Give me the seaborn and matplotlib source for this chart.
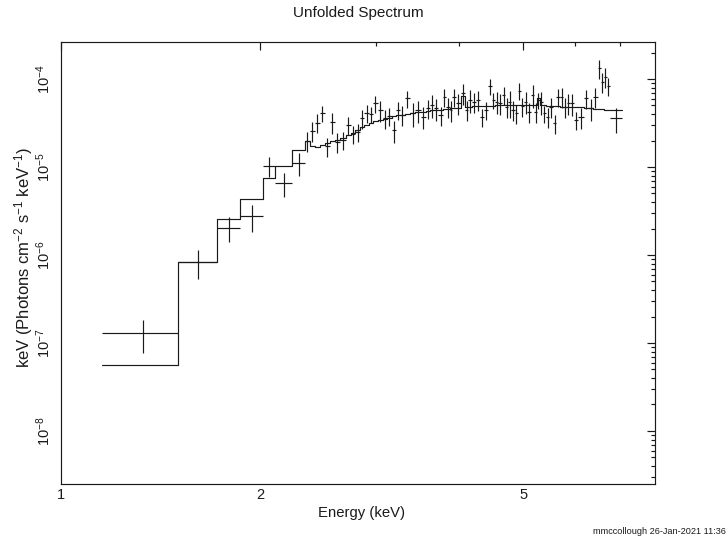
import numpy as np
import pandas as pd
import matplotlib
matplotlib.use("Agg")
import matplotlib.pyplot as plt
from matplotlib.ticker import FixedLocator, LogLocator, NullFormatter, FuncFormatter
import seaborn as sns

# Channel bin edges (keV)
bin_edges = [
    1.154, 1.503, 1.722, 1.865, 2.021, 2.107, 2.236, 2.340,
    2.378, 2.423, 2.463, 2.507, 2.551, 2.596, 2.643, 2.694, 2.744, 2.788,
    2.832, 2.878, 2.921, 2.964, 3.012, 3.065, 3.115, 3.165, 3.215, 3.257,
    3.309, 3.372, 3.437, 3.502, 3.564, 3.616, 3.666, 3.724, 3.777, 3.827,
    3.870, 3.910, 3.962, 4.022, 4.081, 4.134, 4.186, 4.240, 4.297, 4.363,
    4.426, 4.483, 4.535, 4.589, 4.647, 4.702, 4.745, 4.800, 4.857, 4.908,
    4.963, 5.014, 5.073, 5.141, 5.199, 5.250, 5.299, 5.351, 5.411, 5.478,
    5.545, 5.615, 5.688, 5.755, 5.822, 5.889, 5.965, 6.064, 6.173, 6.270,
    6.380, 6.481, 6.554, 6.623, 6.692, 6.770, 7.059,
]

# Unfolded data, E*F(E), in units of 1e-5 keV (photons cm^-2 s^-1 keV^-1)
flux_1e5 = [
    0.0130, 0.0832, 0.204, 0.277, 1.035, 0.653, 1.12,
    2.00, 2.57, 3.19, 4.08, 1.73, 3.27, 1.94, 2.03, 3.00, 2.37,
    2.52, 3.58, 4.08, 4.00, 5.30, 4.44, 3.58, 3.80, 2.63, 4.44,
    3.90, 6.04, 4.08, 4.44, 3.73, 4.65, 5.06, 4.65, 3.90, 6.29,
    4.84, 4.44, 6.29, 5.30, 6.88, 4.44, 5.77, 5.52, 5.77, 3.73,
    4.44, 8.33, 5.77, 5.52, 5.30, 6.58, 4.84, 5.52, 4.44, 4.08,
    7.31, 4.93, 5.52, 4.25, 6.58, 4.25, 5.77, 5.52, 4.08, 3.73,
    4.84, 3.14, 6.29, 6.29, 4.84, 5.30, 5.30, 3.42, 3.73, 6.04,
    4.65, 6.29, 13.2, 9.32, 10.5, 8.33, 3.58,
]

# 1-sigma uncertainties, same units
flux_err_1e5 = [
    0.0053, 0.030, 0.0645, 0.0945, 0.257, 0.198, 0.329,
    0.51, 0.67, 0.78, 0.85, 0.43, 0.87, 0.49, 0.465, 0.68, 0.55,
    0.60, 0.85, 0.92, 0.85, 1.17, 1.19, 0.845, 0.89, 0.74, 0.98,
    0.99, 1.33, 1.21, 1.25, 1.02, 1.18, 1.45, 1.31, 0.96, 1.43,
    1.23, 1.19, 1.50, 1.40, 1.82, 1.12, 1.70, 1.40, 1.46, 0.89,
    1.05, 1.80, 1.22, 1.55, 1.40, 1.56, 1.28, 1.88, 1.12, 1.03,
    1.58, 1.23, 1.55, 1.12, 1.94, 1.08, 1.22, 1.62, 0.90, 0.99,
    1.28, 0.79, 1.50, 1.60, 1.28, 1.40, 1.49, 0.81, 1.01, 1.50,
    1.31, 1.60, 3.13, 2.36, 2.69, 1.95, 1.14,
]

# Folded model per bin, same units
model_1e5 = [
    0.00562, 0.084, 0.255, 0.430, 0.744, 1.035, 1.56,
    1.97, 1.73, 1.69, 1.78, 1.89, 1.95, 2.03, 2.14, 2.31, 2.45,
    2.63, 2.83, 3.00, 3.16, 3.29, 3.42, 3.54, 3.65, 3.75, 3.85,
    3.90, 4.00, 4.11, 4.18, 4.27, 4.33, 4.39, 4.44, 4.50, 4.56,
    4.60, 4.65, 4.68, 4.72, 6.40, 4.81, 4.84, 4.87, 4.89, 4.93,
    4.93, 4.96, 4.99, 5.00, 5.03, 5.04, 5.06, 5.06, 5.09, 5.10,
    5.11, 5.12, 5.12, 5.12, 5.12, 5.11, 6.08, 5.06, 5.00, 4.93,
    4.93, 4.89, 4.87, 4.84, 4.83, 4.81, 4.81, 4.78, 4.77, 4.74,
    4.68, 4.62, 4.56, 4.52, 4.50, 4.48, 4.39,
]

x_major = [1, 2, 5]
x_minor = [3, 4, 6, 7]

title_text = "Unfolded Spectrum"
xlabel_text = "Energy (keV)"
ylabel_text = r"keV (Photons cm$^{-2}$ s$^{-1}$ keV$^{-1}$)"
stamp_text = "mmccollough 26-Jan-2021 11:36"

sns.set_theme(style="white")
plt.rcParams["font.family"] = ["Liberation Sans", "DejaVu Sans"]
plt.rcParams["mathtext.fontset"] = "custom"
plt.rcParams["mathtext.rm"] = "Liberation Sans"
plt.rcParams["mathtext.it"] = "Liberation Sans:italic"
plt.rcParams["mathtext.bf"] = "Liberation Sans:bold"

edges = np.array(bin_edges)
lo, hi = edges[:-1], edges[1:]
centers = 0.5 * (lo + hi)
halfw = 0.5 * (hi - lo)
scale = 1e-5
flux = np.array(flux_1e5) * scale
flux_err = np.array(flux_err_1e5) * scale
model = np.array(model_1e5) * scale

W, H = 728, 540
fig = plt.figure(figsize=(W / 100, H / 100), dpi=100)
ax = fig.add_axes([61 / W, 1 - 484 / H, (655 - 61) / W, (484 - 42) / H])

ink = "#1a1a1a"
lw = 0.85

step_df = pd.DataFrame({"energy": edges, "model": np.append(model, model[-1])})
sns.lineplot(data=step_df, x="energy", y="model", drawstyle="steps-post",
             estimator=None, sort=False, color=ink, lw=lw, ax=ax)

ax.errorbar(centers, flux, xerr=halfw, yerr=flux_err, fmt="none",
            ecolor=ink, elinewidth=lw, capsize=0)

ax.set_xscale("log")
ax.set_yscale("log")
ax.set_xlim(1.0, 7.917)
ax.set_ylim(2.498e-9, 2.633e-4)

ax.xaxis.set_major_locator(FixedLocator(x_major))
ax.xaxis.set_minor_locator(FixedLocator(x_minor))
ax.xaxis.set_major_formatter(FuncFormatter(lambda v, p: f"{v:g}"))
ax.xaxis.set_minor_formatter(NullFormatter())
ax.yaxis.set_major_locator(LogLocator(base=10, numticks=30))
ax.yaxis.set_minor_locator(LogLocator(base=10, subs=np.arange(2, 10), numticks=30))
ax.yaxis.set_major_formatter(
    FuncFormatter(lambda v, p: rf"$10^{{{int(round(np.log10(v)))}}}$"))
ax.yaxis.set_minor_formatter(NullFormatter())

ax.tick_params(which="both", direction="in", top=True, right=True,
               color=ink, width=lw, labelsize=10.5, labelcolor=ink)
ax.tick_params(which="major", length=6)
ax.tick_params(which="minor", length=3)
ax.tick_params(axis="x", pad=3)
ax.tick_params(axis="y", pad=6, labelrotation=90)
for lab in ax.get_yticklabels():
    lab.set_verticalalignment("center")

for s in ax.spines.values():
    s.set_color(ink)
    s.set_linewidth(lw)
ax.set_xlabel("")
ax.set_ylabel("")

fig.text(358 / W, 1 - 13 / H, title_text, ha="center", va="center",
         fontsize=11, color=ink)
fig.text(361 / W, 1 - 513 / H, xlabel_text, ha="center", va="center",
         fontsize=10.7, color=ink)
fig.text(24 / W, 1 - 258 / H, ylabel_text, ha="center", va="center",
         rotation=90, fontsize=12, color=ink)
fig.text(726 / W, 1 - 532 / H, stamp_text, ha="right", va="center",
         fontsize=6.6, color=ink)

fig.savefig("out.png", dpi=100, facecolor="white")
